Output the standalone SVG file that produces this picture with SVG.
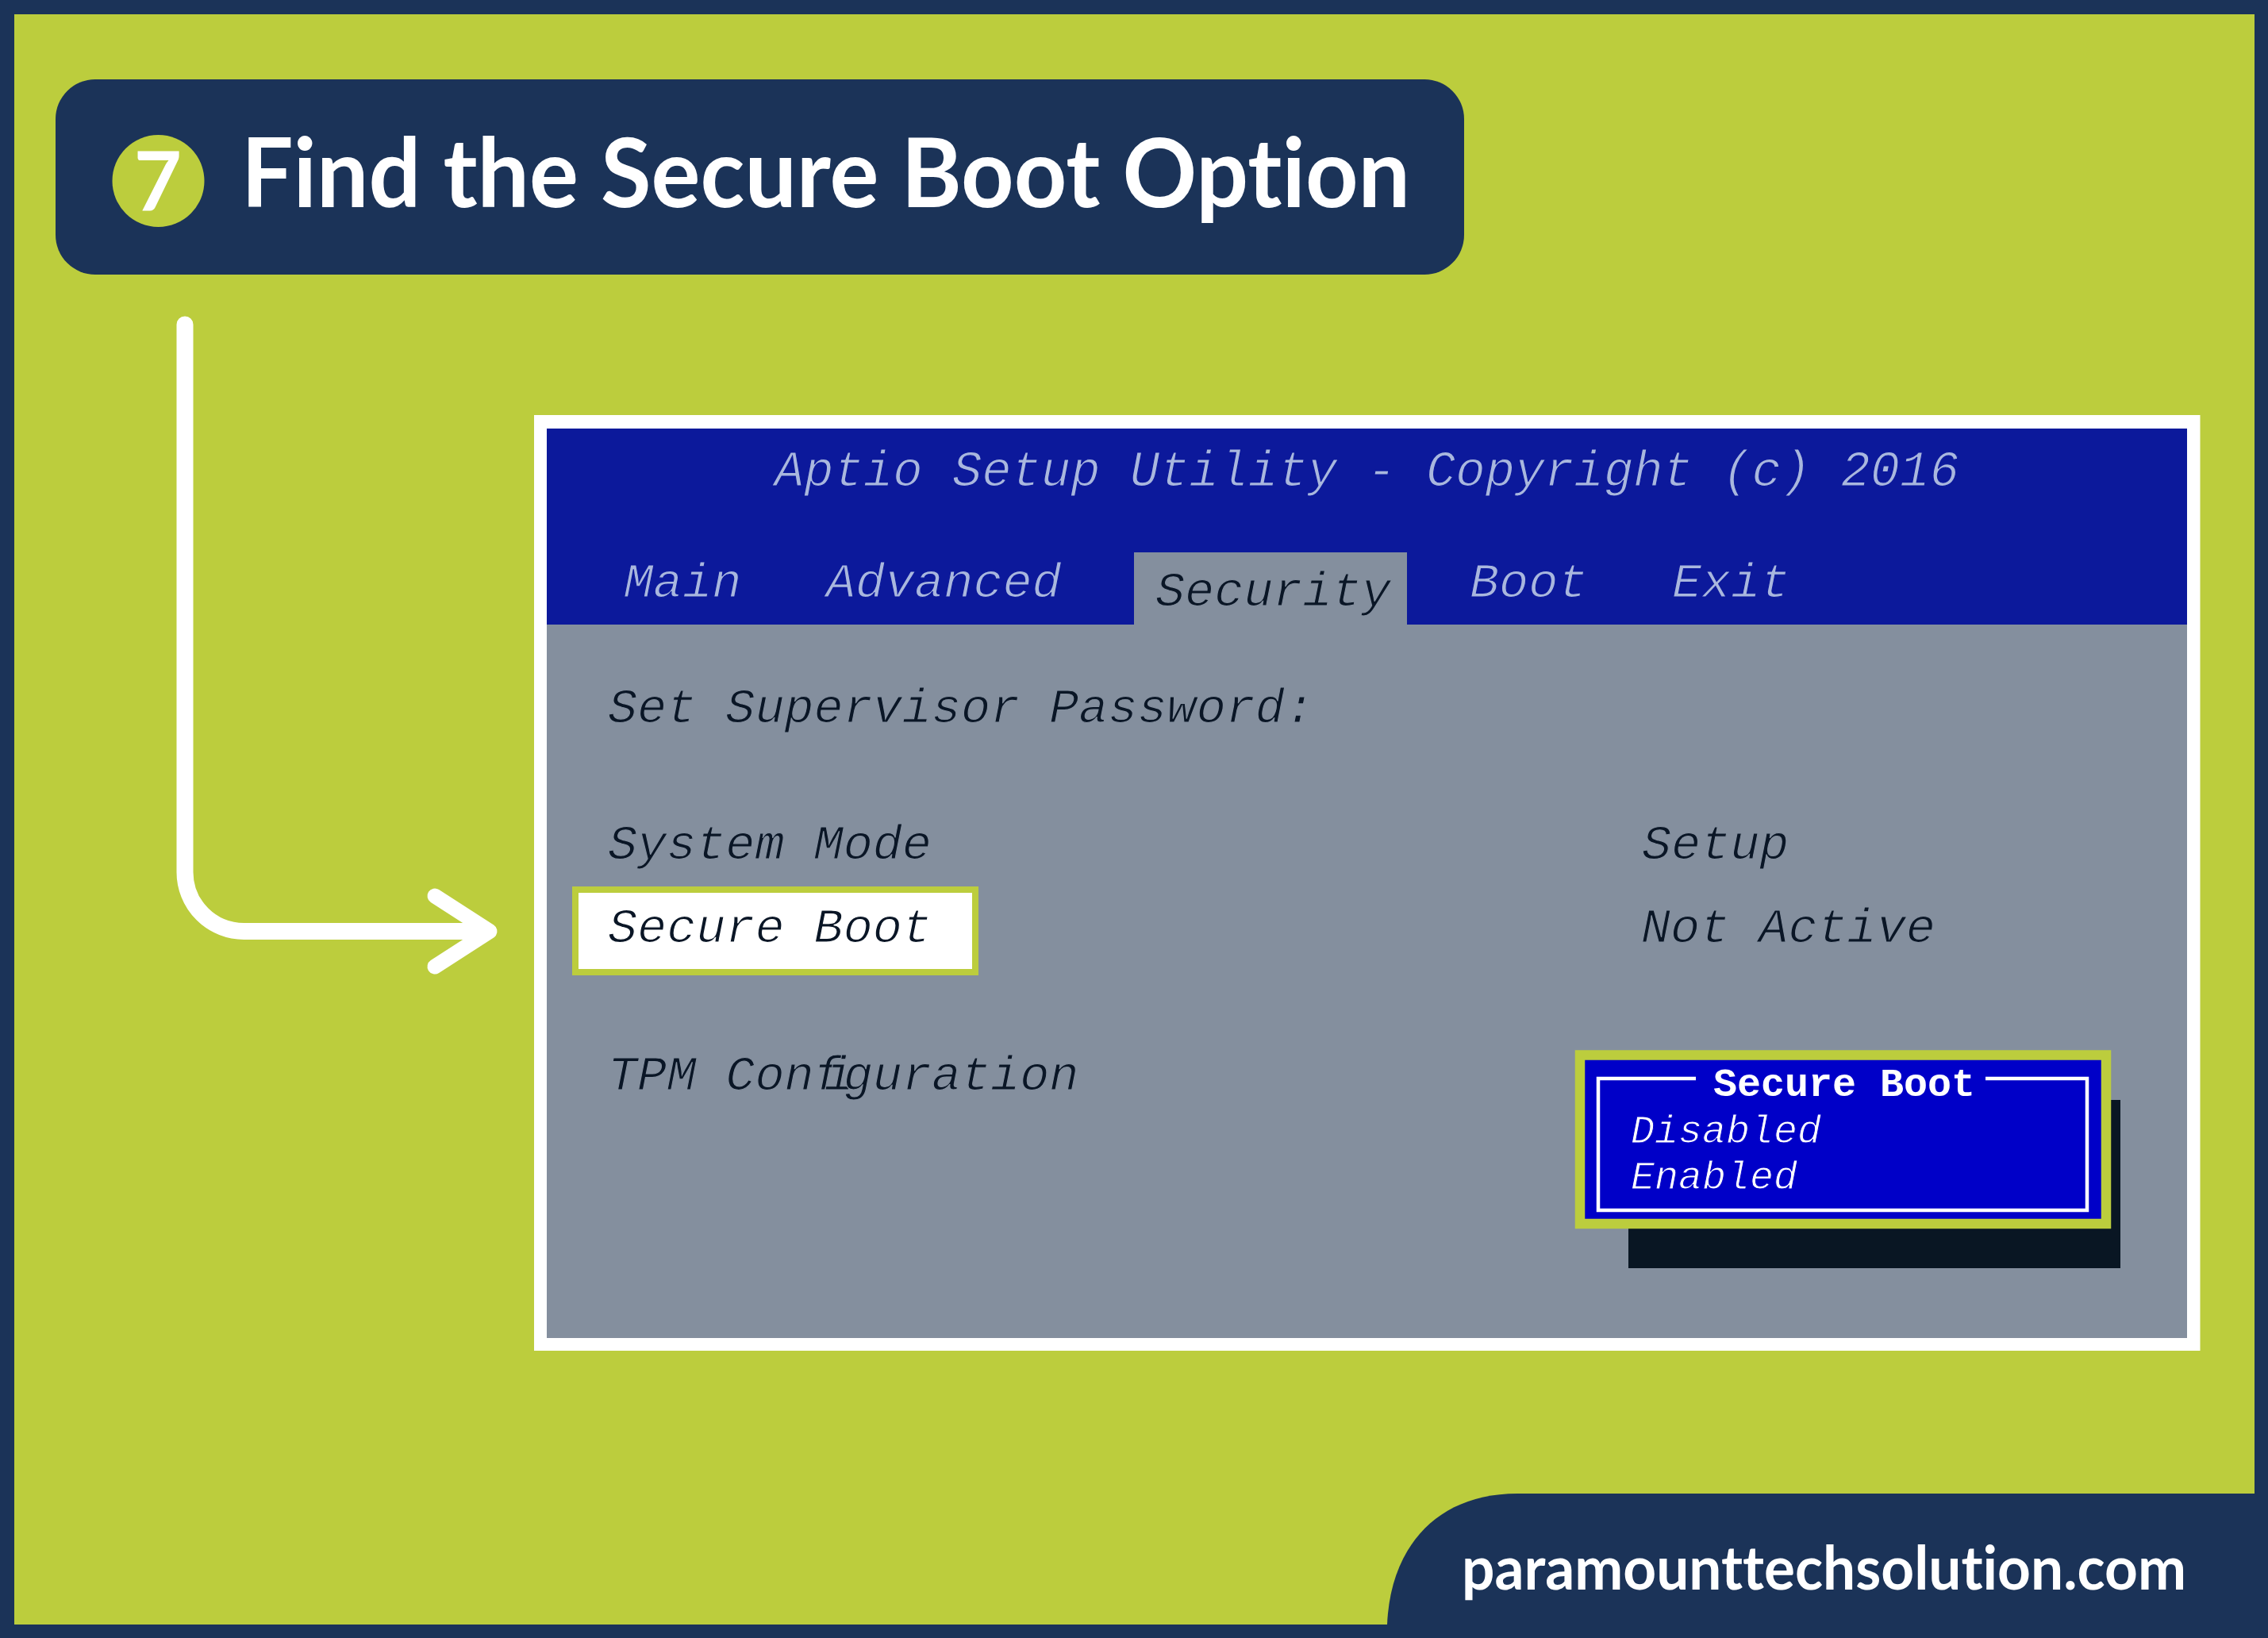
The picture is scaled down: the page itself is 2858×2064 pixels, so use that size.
<svg xmlns="http://www.w3.org/2000/svg" width="2858" height="2064" viewBox="0 0 2858 2064">
<style>
.m{font-family:"Liberation Mono",monospace;font-style:italic;font-size:61.800px;stroke-width:1.200px}
.hd{fill:#a9b7de;stroke:#0c199b}
.dk{fill:#0a1626;stroke:#848f9e}
.wh{fill:#0a1626;stroke:#fff}
.pop{font-family:"Liberation Mono",monospace;font-size:50px;fill:#fff}
.it{font-style:italic;stroke:#0000c8;stroke-width:1px}
.sans{font-family:"Lato","Open Sans",sans-serif;fill:#fff;font-variant-ligatures:none}
</style>
<rect width="2858" height="2064" fill="#1b3358"/>
<rect x="18" y="18" width="2823" height="2029" fill="#bccd3d"/>
<g id="footer">
<path d="M1748 2064V2047C1752 1950 1810 1882 1912 1882H2858V2064Z" fill="#1b3358"/>
<text class="sans" x="1842" y="2003" font-size="76" font-weight="700" textLength="913" lengthAdjust="spacingAndGlyphs">paramounttechsolution.com</text>
</g>
<g id="title">
<rect x="70" y="100" width="1775" height="246" rx="50" fill="#1b3358"/>
<circle cx="199.500" cy="228" r="58" fill="#bccd3d"/>
<text class="sans" x="199" y="265" font-size="104" font-weight="700" text-anchor="middle">7</text>
<text class="sans" x="304" y="261" font-size="120" font-weight="700" textLength="1473" lengthAdjust="spacingAndGlyphs">Find the Secure Boot Option</text>
</g>
<g id="connectors">
<path d="M233 409V1099A74.500 74.500 0 0 0 307.500 1173.500H612" fill="none" stroke="#fff" stroke-width="21" stroke-linecap="round"/>
<path d="M548 1129L617 1173.500L548 1218" fill="none" stroke="#fff" stroke-width="19" stroke-linecap="round" stroke-linejoin="round"/>
</g>
<g id="bios">
<rect x="673" y="523" width="2099.500" height="1179" fill="#fff"/>
<rect x="689" y="540" width="2067" height="1146" fill="#848f9e"/>
<rect x="689" y="540" width="2067" height="247" fill="#0c199b"/>
<rect x="1429" y="696" width="344" height="91" fill="#848f9e"/>
<text class="m hd" x="976" y="612" style="font-size:62.200px">Aptio Setup Utility - Copyright (c) 2016</text>
<text class="m hd" x="786" y="752">Main</text>
<text class="m hd" x="1041" y="752">Advanced</text>
<text class="m dk" x="1456" y="763">Security</text>
<text class="m hd" x="1852" y="752">Boot</text>
<text class="m hd" x="2107" y="752">Exit</text>
<text class="m dk" x="766" y="910">Set Supervisor Password:</text>
<text class="m dk" x="766" y="1082">System Mode</text>
<text class="m dk" x="2069" y="1082">Setup</text>
<text class="m dk" x="2068" y="1187">Not Active</text>
<text class="m dk" x="766" y="1373">TPM Con<tspan style="letter-spacing:-24px">f</tspan><tspan style="letter-spacing:-13px">i</tspan>guration</text>
</g>
<g id="secure-boot-row">
<rect x="725" y="1121" width="504" height="104" fill="#fff" stroke="#bccd3d" stroke-width="8"/>
<text class="m wh" x="766" y="1187">Secure Boot</text>
</g>
<g id="popup">
<rect x="2052" y="1386" width="620" height="212" fill="#091623"/>
<rect x="1991" y="1329.500" width="663" height="212.500" fill="#0000c8" stroke="#bccd3d" stroke-width="12.500"/>
<path d="M2137 1359H2014V1525H2630V1359H2502" fill="none" stroke="#fff" stroke-width="4.500"/>
<text class="pop" x="2159" y="1381" font-weight="700">Secure Boot</text>
<text class="pop it" x="2055" y="1440">Disabled</text>
<text class="pop it" x="2055" y="1498">Enabled</text>
</g>
</svg>
